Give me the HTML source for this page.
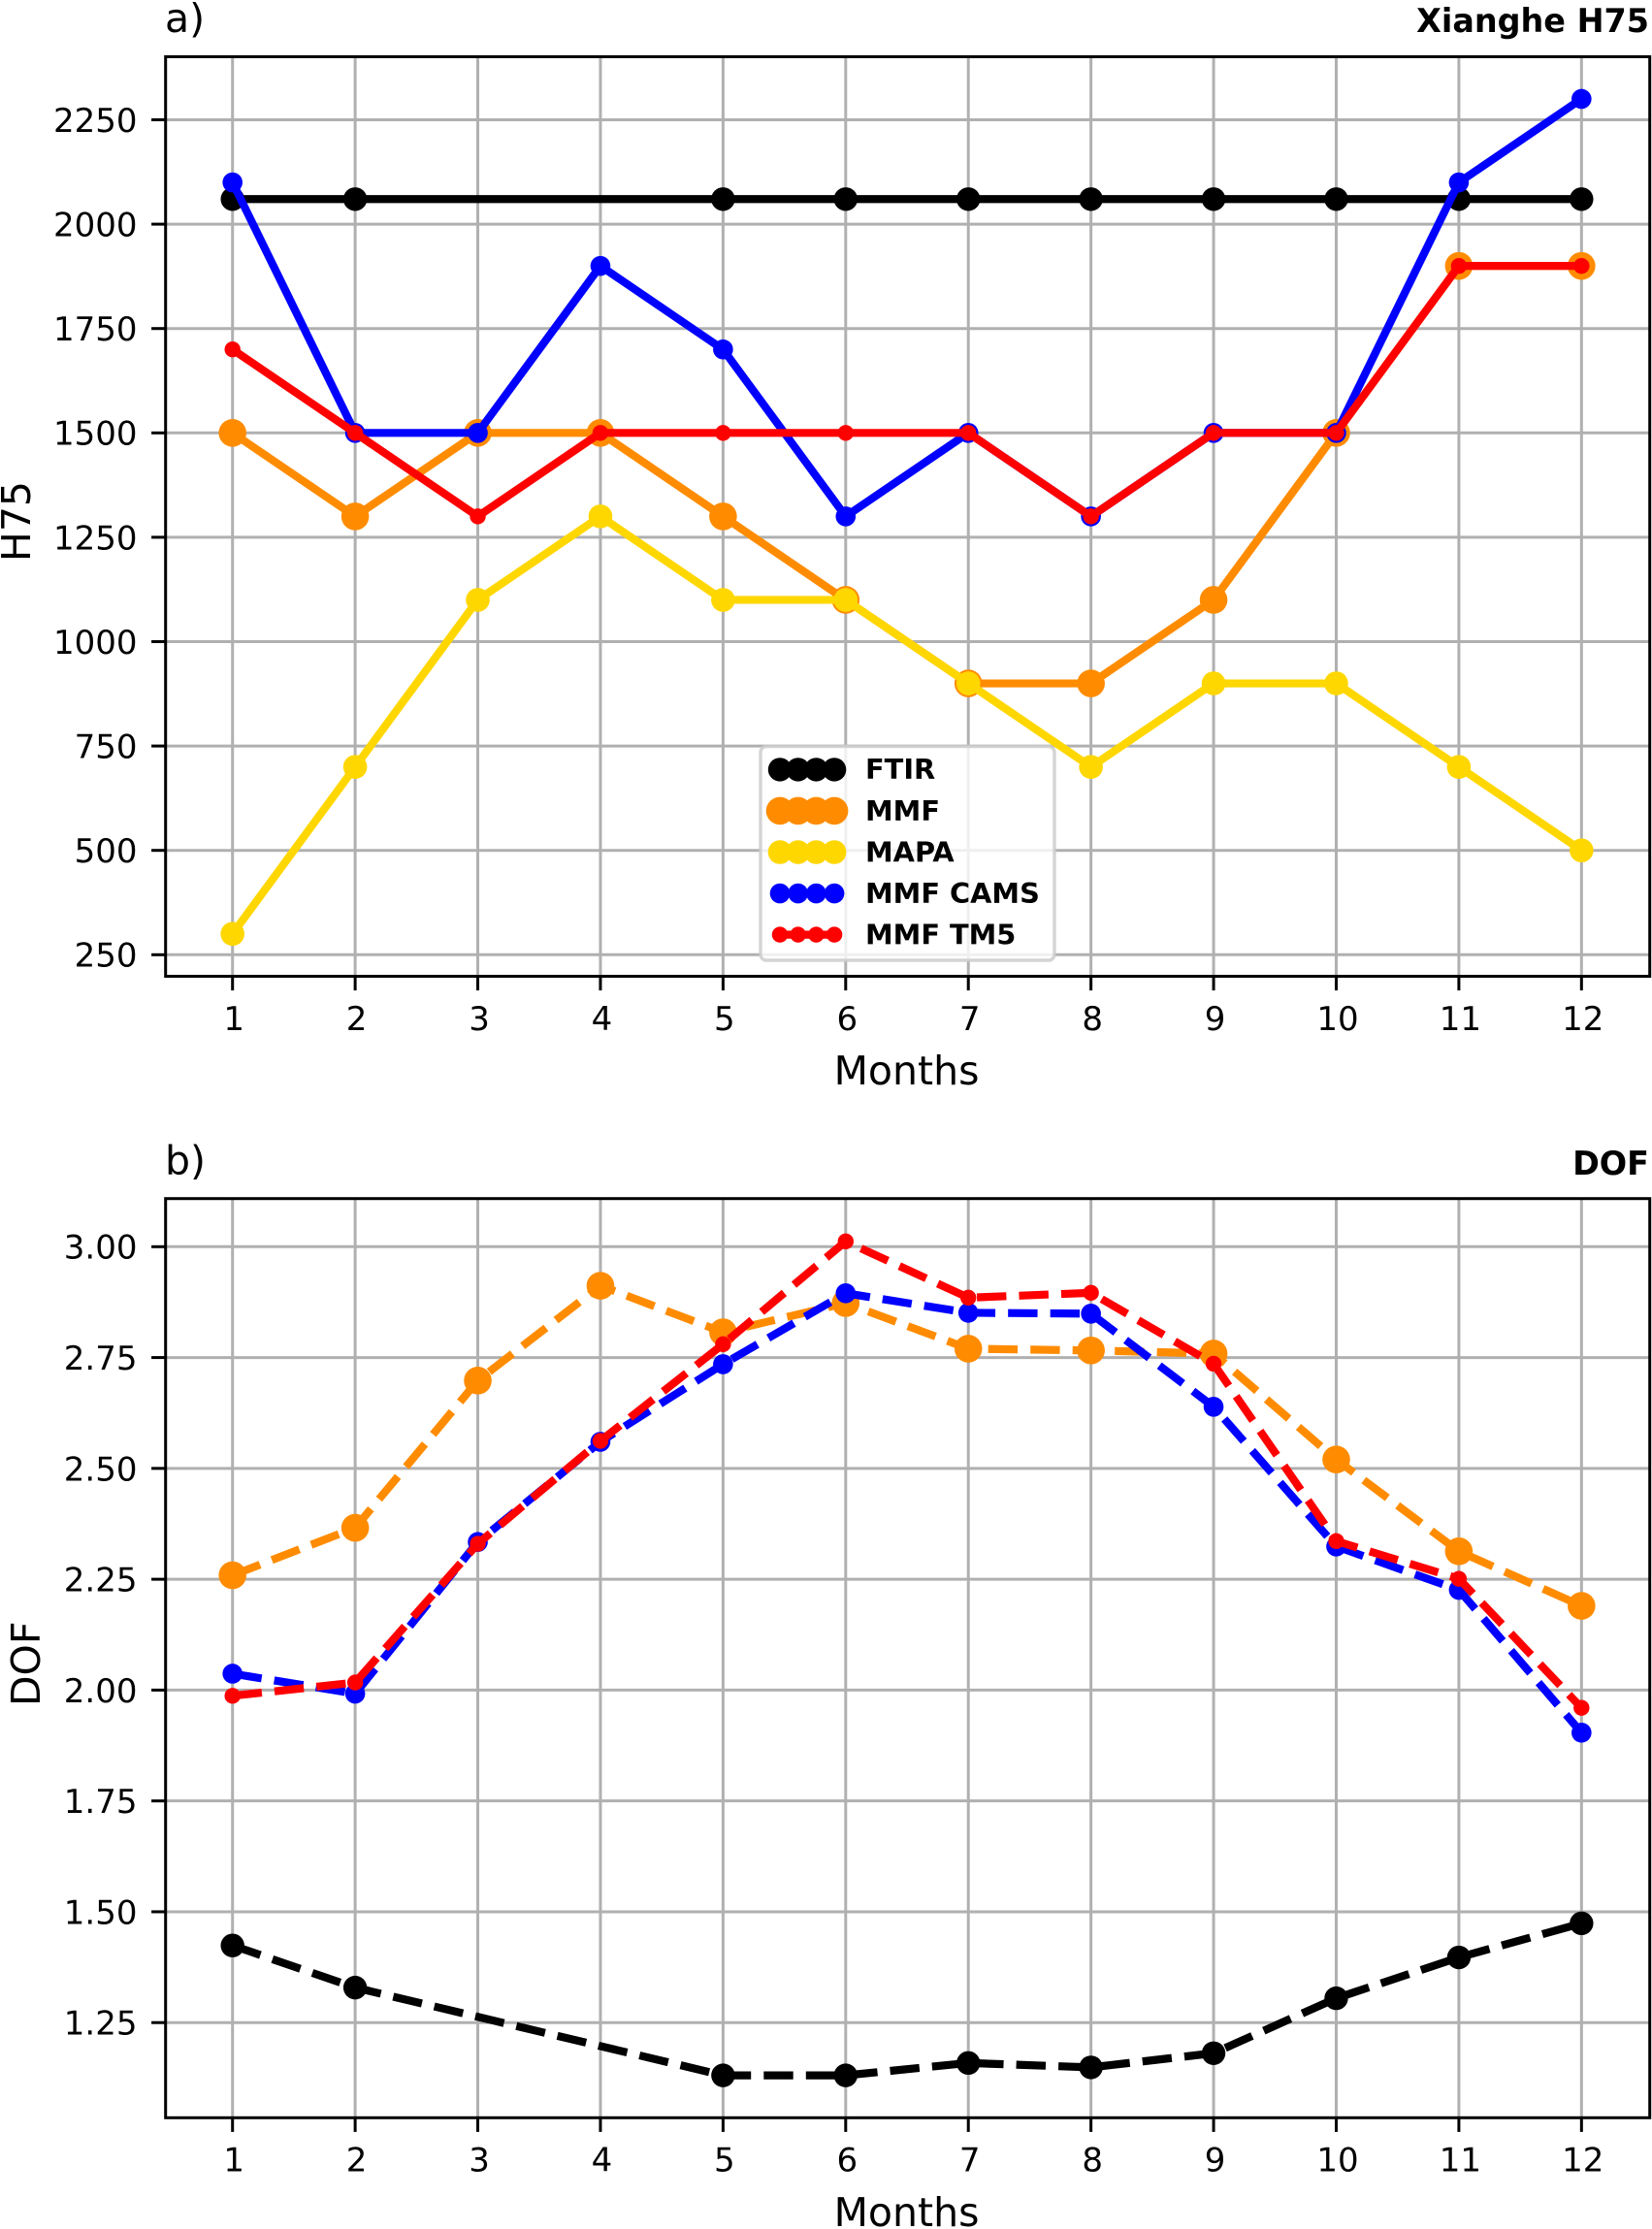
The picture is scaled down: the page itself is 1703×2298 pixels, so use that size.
<!DOCTYPE html>
<html lang="en">
<head>
<meta charset="utf-8">
<title>Xianghe H75 and DOF monthly chart</title>
<style>
html,body{margin:0;padding:0;background:#fff;}
svg{display:block;}
text{font-family:"DejaVu Sans","Liberation Sans",sans-serif;fill:#000;}
</style>
</head>
<body>
<svg id="chart" xmlns="http://www.w3.org/2000/svg" width="1703" height="2298" viewBox="0 0 1703 2298">
  <rect x="0" y="0" width="1703" height="2298" fill="#ffffff"/>
  <g id="panelA"></g>
  <g id="panelB"></g>
  <text x="170" y="33" font-size="41">a)</text>
  <text x="1700" y="33" font-size="33.4" font-weight="bold" text-anchor="end">Xianghe H75</text>
  <text x="934.5" y="1118" font-size="41" text-anchor="middle">Months</text>
  <text transform="translate(31 537.5) rotate(-90)" font-size="41" text-anchor="middle">H75</text>
  <text x="170" y="1210.5" font-size="41">b)</text>
  <text x="1700" y="1211" font-size="33.4" font-weight="bold" text-anchor="end">DOF</text>
  <text x="934.5" y="2295" font-size="41" text-anchor="middle">Months</text>
  <text transform="translate(41 1715.3) rotate(-90)" font-size="41" text-anchor="middle">DOF</text>
</svg>
<script>
const months = [1, 2, 3, 4, 5, 6, 7, 8, 9, 10, 11, 12];
const ftirMonths = [1, 2, 5, 6, 7, 8, 9, 10, 11, 12];
const h75Ticks = [250, 500, 750, 1000, 1250, 1500, 1750, 2000, 2250];
const dofTicks = [1.25, 1.5, 1.75, 2, 2.25, 2.5, 2.75, 3];

const h75Ftir = [2060, 2060, 2060, 2060, 2060, 2060, 2060, 2060, 2060, 2060];
const h75Mmf = [1500, 1300, 1500, 1500, 1300, 1100, 900, 900, 1100, 1500, 1900, 1900];
const h75Mapa = [300, 700, 1100, 1300, 1100, 1100, 900, 700, 900, 900, 700, 500];
const h75Cams = [2100, 1500, 1500, 1900, 1700, 1300, 1500, 1300, 1500, 1500, 2100, 2300];
const h75Tm5 = [1700, 1500, 1300, 1500, 1500, 1500, 1500, 1300, 1500, 1500, 1900, 1900];

const dofFtir = [1.424, 1.329, 1.131, 1.131, 1.159, 1.149, 1.181, 1.305, 1.397, 1.474];
const dofMmf = [2.259, 2.366, 2.698, 2.912, 2.807, 2.873, 2.770, 2.766, 2.759, 2.520, 2.313, 2.190];
const dofCams = [2.037, 1.992, 2.334, 2.560, 2.735, 2.895, 2.851, 2.849, 2.639, 2.324, 2.226, 1.904];
const dofTm5 = [1.987, 2.017, 2.330, 2.562, 2.780, 3.012, 2.885, 2.896, 2.736, 2.336, 2.251, 1.960];

const NS = 'http://www.w3.org/2000/svg';
const legendLabels = ['FTIR', 'MMF', 'MAPA', 'MMF CAMS', 'MMF TM5'];
const seriesColors = ['#000000', '#ff8c00', '#ffd700', '#0000ff', '#ff0000'];
const markerRadii = [12.2, 14.3, 12.3, 10.3, 8.2];

function make(parent, tag, attrs, text) {
  const node = document.createElementNS(NS, tag);
  for (const k in attrs) node.setAttribute(k, attrs[k]);
  if (text !== undefined) node.textContent = text;
  parent.appendChild(node);
  return node;
}
function xScale(m) { return 239.7 + (m - 1) * 126.42; }
function yScaleH75(v) { return 984.3 + (250 - v) * 0.4304; }
function yScaleDof(v) { return 1285.3 + (3 - v) * 457.1; }

function drawAxes(parent, prefix, box, yTicks, yScale, fmt) {
  for (const m of months) {
    const g = make(parent, 'line', {x1: xScale(m), x2: xScale(m), y1: box.top, y2: box.bottom, stroke: '#b0b0b0', 'stroke-width': 3});
    
    
  }
  for (const v of yTicks) {
    const g = make(parent, 'line', {x1: box.left, x2: box.right, y1: yScale(v), y2: yScale(v), stroke: '#b0b0b0', 'stroke-width': 3});
    
    
  }
}
function drawFrame(parent, prefix, box, yTicks, yScale, fmt) {
  for (const m of months) {
    const t = make(parent, 'line', {x1: xScale(m), x2: xScale(m), y1: box.bottom, y2: box.bottom + 14.6, stroke: '#000', 'stroke-width': 3});
    
    
    const l = make(parent, 'text', {x: xScale(m) + 1.5, y: box.bottom + 55.4, 'font-size': 34, 'text-anchor': 'middle'}, String(m));
    
    
  }
  for (const v of yTicks) {
    const t = make(parent, 'line', {x1: box.left - 14.6, x2: box.left, y1: yScale(v), y2: yScale(v), stroke: '#000', 'stroke-width': 3});
    
    
    const l = make(parent, 'text', {x: 141.5, y: yScale(v) + 12.4, 'font-size': 34, 'text-anchor': 'end'}, fmt(v));
    
    
  }
  const f = make(parent, 'rect', {x: box.left, y: box.top, width: box.right - box.left, height: box.bottom - box.top, fill: 'none', stroke: '#000', 'stroke-width': 3});
  
  
}
function drawSeries(parent, prefix, label, color, radius, xs, ys, yScale, dashed) {
  const g = make(parent, 'g', {});
  
  
  const pts = xs.map((m, i) => xScale(m).toFixed(2) + ',' + yScale(ys[i]).toFixed(2)).join(' ');
  const attrs = {points: pts, fill: 'none', stroke: color, 'stroke-width': 8.2, 'stroke-linejoin': 'round', 'stroke-linecap': dashed ? 'butt' : 'square'};
  if (dashed) attrs['stroke-dasharray'] = '30.4 13.1';
  const line = make(g, 'polyline', attrs);
  
  
  xs.forEach((m, i) => {
    const c = make(g, 'circle', {cx: xScale(m), cy: yScale(ys[i]), r: radius, fill: color});
    
    
  });
}
function drawLegend(parent) {
  const g = make(parent, 'g', {});
  
  
  const frame = make(g, 'rect', {x: 784, y: 769.5, width: 303, height: 220.5, rx: 6, fill: 'rgba(255,255,255,0.8)', stroke: 'rgba(204,204,204,0.85)', 'stroke-width': 3.4});
  
  
  legendLabels.forEach((label, i) => {
    const cy = 793.4 + i * 42.55;
    const entry = make(g, 'g', {});
    
    
    const l = make(entry, 'line', {x1: 804, x2: 860, y1: cy, y2: cy, stroke: seriesColors[i], 'stroke-width': 8.2});
    
    
    for (let k = 0; k < 4; k++) {
      const c = make(entry, 'circle', {cx: 804 + k * 18.7, cy: cy, r: markerRadii[i], fill: seriesColors[i]});
      
      
    }
    const t = make(entry, 'text', {x: 892, y: cy + 9.8, 'font-size': 28.8, 'font-weight': 'bold'}, label);
    
    
  });
}

const boxA = {left: 170.7, right: 1700.7, top: 58.5, bottom: 1006.5};
const boxB = {left: 170.7, right: 1700.7, top: 1235.7, bottom: 2183.3};
const fmtA = v => String(v);
const fmtB = v => v.toFixed(2);
const panelA = document.getElementById('panelA');
const panelB = document.getElementById('panelB');

drawAxes(panelA, 'panel-a', boxA, h75Ticks, yScaleH75, fmtA);
drawSeries(panelA, 'panel-a', 'FTIR', seriesColors[0], markerRadii[0], ftirMonths, h75Ftir, yScaleH75, false);
drawSeries(panelA, 'panel-a', 'MMF', seriesColors[1], markerRadii[1], months, h75Mmf, yScaleH75, false);
drawSeries(panelA, 'panel-a', 'MAPA', seriesColors[2], markerRadii[2], months, h75Mapa, yScaleH75, false);
drawSeries(panelA, 'panel-a', 'MMF CAMS', seriesColors[3], markerRadii[3], months, h75Cams, yScaleH75, false);
drawSeries(panelA, 'panel-a', 'MMF TM5', seriesColors[4], markerRadii[4], months, h75Tm5, yScaleH75, false);
drawFrame(panelA, 'panel-a', boxA, h75Ticks, yScaleH75, fmtA);
drawLegend(panelA);

drawAxes(panelB, 'panel-b', boxB, dofTicks, yScaleDof, fmtB);
drawSeries(panelB, 'panel-b', 'FTIR', seriesColors[0], markerRadii[0], ftirMonths, dofFtir, yScaleDof, true);
drawSeries(panelB, 'panel-b', 'MMF', seriesColors[1], markerRadii[1], months, dofMmf, yScaleDof, true);
drawSeries(panelB, 'panel-b', 'MMF CAMS', seriesColors[3], markerRadii[3], months, dofCams, yScaleDof, true);
drawSeries(panelB, 'panel-b', 'MMF TM5', seriesColors[4], markerRadii[4], months, dofTm5, yScaleDof, true);
drawFrame(panelB, 'panel-b', boxB, dofTicks, yScaleDof, fmtB);
</script>
</body>
</html>
